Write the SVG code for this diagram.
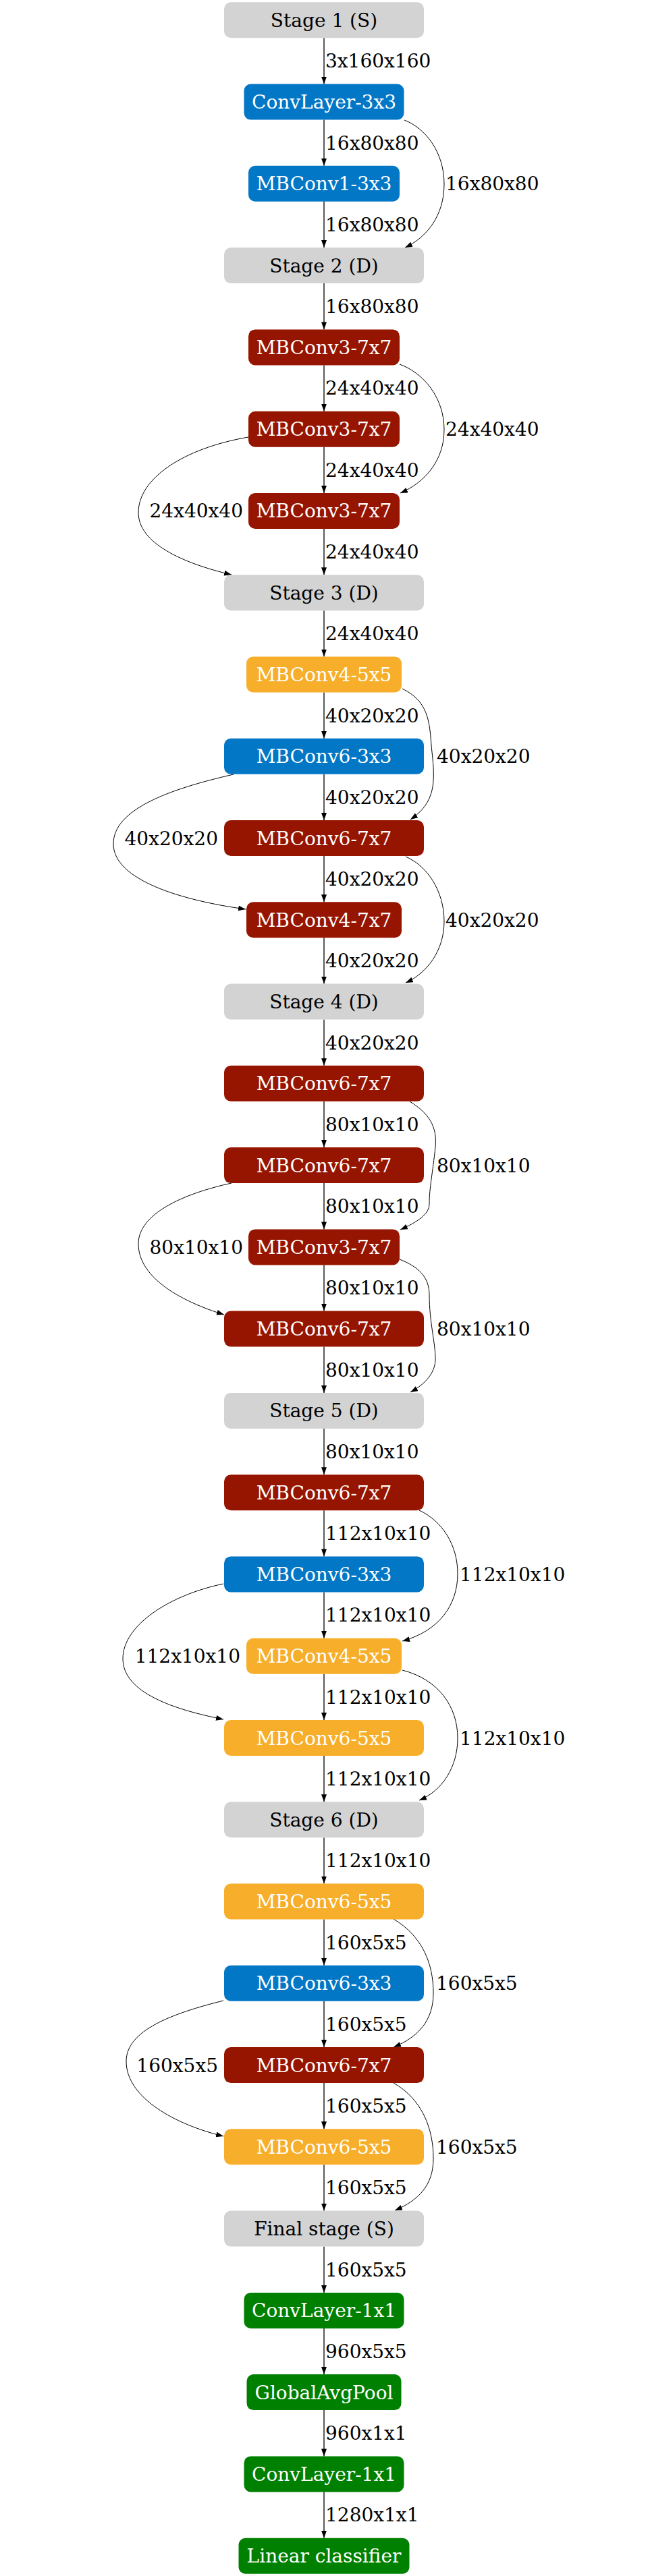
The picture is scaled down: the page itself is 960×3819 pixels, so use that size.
<svg xmlns="http://www.w3.org/2000/svg" width="960" height="3819" viewBox="0 0 960 3819">
<style>
text{font-family:"DejaVu Serif","Liberation Serif",serif;font-size:28px}
.nt{text-anchor:middle;fill:#ffffff}
.st{text-anchor:middle;fill:#000000}
.el{fill:#000000}
.er{text-anchor:end;fill:#000000}
.gray{fill:#d3d3d3}
.blue{fill:#0277c6}
.red{fill:#961500}
.orange{fill:#f7ae2a}
.green{fill:#008000}
.e{fill:none;stroke:#000;stroke-width:1.3}
.c{fill:none;stroke:#000;stroke-width:1}
</style>
<defs>
<marker id="ah" markerUnits="userSpaceOnUse" markerWidth="12" markerHeight="9" refX="11" refY="4" orient="auto">
<path d="M0,0 L11,4 L0,8 z" fill="#000"/>
</marker>
</defs>
<rect x="0" y="0" width="960" height="3819" fill="#ffffff"/>
<g id="connectors">
<path class="e" marker-end="url(#ah)" d="M480,56.3 V124.6"/>
<path class="e" marker-end="url(#ah)" d="M480,177.6 V245.8"/>
<path class="e" marker-end="url(#ah)" d="M480,298.8 V367.1"/>
<path class="e" marker-end="url(#ah)" d="M480,420.1 V488.4"/>
<path class="e" marker-end="url(#ah)" d="M480,541.4 V609.7"/>
<path class="e" marker-end="url(#ah)" d="M480,662.7 V730.9"/>
<path class="e" marker-end="url(#ah)" d="M480,783.9 V852.2"/>
<path class="e" marker-end="url(#ah)" d="M480,905.2 V973.5"/>
<path class="e" marker-end="url(#ah)" d="M480,1026.5 V1094.7"/>
<path class="e" marker-end="url(#ah)" d="M480,1147.7 V1216"/>
<path class="e" marker-end="url(#ah)" d="M480,1269 V1337.3"/>
<path class="e" marker-end="url(#ah)" d="M480,1390.3 V1458.5"/>
<path class="e" marker-end="url(#ah)" d="M480,1511.5 V1579.8"/>
<path class="e" marker-end="url(#ah)" d="M480,1632.8 V1701.1"/>
<path class="e" marker-end="url(#ah)" d="M480,1754.1 V1822.4"/>
<path class="e" marker-end="url(#ah)" d="M480,1875.4 V1943.6"/>
<path class="e" marker-end="url(#ah)" d="M480,1996.6 V2064.9"/>
<path class="e" marker-end="url(#ah)" d="M480,2117.9 V2186.2"/>
<path class="e" marker-end="url(#ah)" d="M480,2239.2 V2307.4"/>
<path class="e" marker-end="url(#ah)" d="M480,2360.4 V2428.7"/>
<path class="e" marker-end="url(#ah)" d="M480,2481.7 V2550"/>
<path class="e" marker-end="url(#ah)" d="M480,2603 V2671.2"/>
<path class="e" marker-end="url(#ah)" d="M480,2724.2 V2792.5"/>
<path class="e" marker-end="url(#ah)" d="M480,2845.5 V2913.8"/>
<path class="e" marker-end="url(#ah)" d="M480,2966.8 V3035.1"/>
<path class="e" marker-end="url(#ah)" d="M480,3088.1 V3156.3"/>
<path class="e" marker-end="url(#ah)" d="M480,3209.3 V3277.6"/>
<path class="e" marker-end="url(#ah)" d="M480,3330.6 V3398.9"/>
<path class="e" marker-end="url(#ah)" d="M480,3451.9 V3520.1"/>
<path class="e" marker-end="url(#ah)" d="M480,3573.1 V3641.4"/>
<path class="e" marker-end="url(#ah)" d="M480,3694.4 V3762.7"/>
<!-- skip connections -->
<path class="c" marker-end="url(#ah)" d="M599,178 C630,190 658,225 658,273 C658,320 632,352 600,367"/>
<path class="c" marker-end="url(#ah)" d="M592,540 C628,553 658,590 658,637 C658,684 628,716 593,731"/>
<path class="c" marker-end="url(#ah)" d="M368,648 C270,665 205,710 205,760 C205,805 270,835 343,852"/>
<path class="c" marker-end="url(#ah)" d="M596,1021 C640,1042 636,1080 640,1115 C645,1160 645,1190 608,1215"/>
<path class="c" marker-end="url(#ah)" d="M346,1148 C250,1170 168,1200 168,1251 C168,1305 270,1335 364,1348"/>
<path class="c" marker-end="url(#ah)" d="M601,1270 C632,1283 658,1320 658,1366 C658,1410 632,1443 601,1457"/>
<path class="c" marker-end="url(#ah)" d="M607,1633 C635,1650 648,1670 645,1700 C641,1740 636,1760 636,1785 C636,1800 618,1812 593,1823"/>
<path class="c" marker-end="url(#ah)" d="M343,1754 C270,1770 205,1800 205,1844 C205,1895 270,1930 332,1949"/>
<path class="c" marker-end="url(#ah)" d="M592,1867 C620,1878 636,1893 636,1920 C636,1960 645,1990 645,2015 C645,2035 630,2052 608,2064"/>
<path class="c" marker-end="url(#ah)" d="M621,2239 C655,2255 678,2290 678,2333 C678,2380 650,2418 596,2433"/>
<path class="c" marker-end="url(#ah)" d="M331,2348 C250,2365 182,2410 182,2459 C182,2510 260,2535 331,2549"/>
<path class="c" marker-end="url(#ah)" d="M596,2476 C650,2490 678,2530 678,2577 C678,2620 655,2655 621,2669"/>
<path class="c" marker-end="url(#ah)" d="M583,2845 C625,2870 642,2910 642,2955 C642,2995 620,3020 583,3035"/>
<path class="c" marker-end="url(#ah)" d="M331,2966 C255,2985 187,3010 187,3056 C187,3110 260,3150 331,3167"/>
<path class="c" marker-end="url(#ah)" d="M583,3088 C625,3112 642,3155 642,3200 C642,3240 620,3262 585,3277"/>
<!-- edge labels -->
<text class="el" x="482" y="100.3">3x160x160</text>
<text class="el" x="482" y="221.6">16x80x80</text>
<text class="el" x="482" y="342.8">16x80x80</text>
<text class="el" x="660" y="282.3">16x80x80</text>
<text class="el" x="482" y="464.1">16x80x80</text>
<text class="el" x="482" y="585.4">24x40x40</text>
<text class="el" x="482" y="706.7">24x40x40</text>
<text class="el" x="482" y="827.9">24x40x40</text>
<text class="el" x="660" y="646.2">24x40x40</text>
<text class="er" x="360" y="767.4">24x40x40</text>
<text class="el" x="482" y="949.2">24x40x40</text>
<text class="el" x="482" y="1070.5">40x20x20</text>
<text class="el" x="482" y="1191.7">40x20x20</text>
<text class="el" x="482" y="1313">40x20x20</text>
<text class="el" x="482" y="1434.3">40x20x20</text>
<text class="el" x="647" y="1131.2">40x20x20</text>
<text class="er" x="323" y="1252.5">40x20x20</text>
<text class="el" x="660" y="1373.8">40x20x20</text>
<text class="el" x="482" y="1555.5">40x20x20</text>
<text class="el" x="482" y="1676.8">80x10x10</text>
<text class="el" x="482" y="1798.1">80x10x10</text>
<text class="el" x="482" y="1919.4">80x10x10</text>
<text class="el" x="482" y="2040.6">80x10x10</text>
<text class="el" x="647" y="1737.6">80x10x10</text>
<text class="er" x="360" y="1858.9">80x10x10</text>
<text class="el" x="647" y="1980.1">80x10x10</text>
<text class="el" x="482" y="2161.9">80x10x10</text>
<text class="el" x="482" y="2283.2">112x10x10</text>
<text class="el" x="482" y="2404.4">112x10x10</text>
<text class="el" x="482" y="2525.7">112x10x10</text>
<text class="el" x="482" y="2647">112x10x10</text>
<text class="el" x="681" y="2343.9">112x10x10</text>
<text class="er" x="356" y="2465.2">112x10x10</text>
<text class="el" x="681" y="2586.5">112x10x10</text>
<text class="el" x="482" y="2768.2">112x10x10</text>
<text class="el" x="482" y="2889.5">160x5x5</text>
<text class="el" x="482" y="3010.8">160x5x5</text>
<text class="el" x="482" y="3132.1">160x5x5</text>
<text class="el" x="482" y="3253.3">160x5x5</text>
<text class="el" x="646" y="2950.3">160x5x5</text>
<text class="er" x="323" y="3071.6">160x5x5</text>
<text class="el" x="646" y="3192.8">160x5x5</text>
<text class="el" x="482" y="3374.6">160x5x5</text>
<text class="el" x="482" y="3495.9">960x5x5</text>
<text class="el" x="482" y="3617.1">960x1x1</text>
<text class="el" x="482" y="3738.4">1280x1x1</text>
</g>
<g id="n0"><rect class="gray" x="332" y="3.3" width="296" height="53" rx="10"/><text class="st" x="480" y="39.8">Stage 1 (S)</text></g>
<g id="n1"><rect class="blue" x="361.5" y="124.6" width="237" height="53" rx="10"/><text class="nt" x="480" y="161.1">ConvLayer-3x3</text></g>
<g id="n2"><rect class="blue" x="368" y="245.8" width="224" height="53" rx="10"/><text class="nt" x="480" y="282.3">MBConv1-3x3</text></g>
<g id="n3"><rect class="gray" x="332" y="367.1" width="296" height="53" rx="10"/><text class="st" x="480" y="403.6">Stage 2 (D)</text></g>
<g id="n4"><rect class="red" x="368" y="488.4" width="224" height="53" rx="10"/><text class="nt" x="480" y="524.9">MBConv3-7x7</text></g>
<g id="n5"><rect class="red" x="368" y="609.7" width="224" height="53" rx="10"/><text class="nt" x="480" y="646.2">MBConv3-7x7</text></g>
<g id="n6"><rect class="red" x="368" y="730.9" width="224" height="53" rx="10"/><text class="nt" x="480" y="767.4">MBConv3-7x7</text></g>
<g id="n7"><rect class="gray" x="332" y="852.2" width="296" height="53" rx="10"/><text class="st" x="480" y="888.7">Stage 3 (D)</text></g>
<g id="n8"><rect class="orange" x="365" y="973.5" width="230" height="53" rx="10"/><text class="nt" x="480" y="1010">MBConv4-5x5</text></g>
<g id="n9"><rect class="blue" x="332" y="1094.7" width="296" height="53" rx="10"/><text class="nt" x="480" y="1131.2">MBConv6-3x3</text></g>
<g id="n10"><rect class="red" x="332" y="1216" width="296" height="53" rx="10"/><text class="nt" x="480" y="1252.5">MBConv6-7x7</text></g>
<g id="n11"><rect class="red" x="365" y="1337.3" width="230" height="53" rx="10"/><text class="nt" x="480" y="1373.8">MBConv4-7x7</text></g>
<g id="n12"><rect class="gray" x="332" y="1458.5" width="296" height="53" rx="10"/><text class="st" x="480" y="1495">Stage 4 (D)</text></g>
<g id="n13"><rect class="red" x="332" y="1579.8" width="296" height="53" rx="10"/><text class="nt" x="480" y="1616.3">MBConv6-7x7</text></g>
<g id="n14"><rect class="red" x="332" y="1701.1" width="296" height="53" rx="10"/><text class="nt" x="480" y="1737.6">MBConv6-7x7</text></g>
<g id="n15"><rect class="red" x="368" y="1822.4" width="224" height="53" rx="10"/><text class="nt" x="480" y="1858.9">MBConv3-7x7</text></g>
<g id="n16"><rect class="red" x="332" y="1943.6" width="296" height="53" rx="10"/><text class="nt" x="480" y="1980.1">MBConv6-7x7</text></g>
<g id="n17"><rect class="gray" x="332" y="2064.9" width="296" height="53" rx="10"/><text class="st" x="480" y="2101.4">Stage 5 (D)</text></g>
<g id="n18"><rect class="red" x="332" y="2186.2" width="296" height="53" rx="10"/><text class="nt" x="480" y="2222.7">MBConv6-7x7</text></g>
<g id="n19"><rect class="blue" x="332" y="2307.4" width="296" height="53" rx="10"/><text class="nt" x="480" y="2343.9">MBConv6-3x3</text></g>
<g id="n20"><rect class="orange" x="365" y="2428.7" width="230" height="53" rx="10"/><text class="nt" x="480" y="2465.2">MBConv4-5x5</text></g>
<g id="n21"><rect class="orange" x="332" y="2550" width="296" height="53" rx="10"/><text class="nt" x="480" y="2586.5">MBConv6-5x5</text></g>
<g id="n22"><rect class="gray" x="332" y="2671.2" width="296" height="53" rx="10"/><text class="st" x="480" y="2707.7">Stage 6 (D)</text></g>
<g id="n23"><rect class="orange" x="332" y="2792.5" width="296" height="53" rx="10"/><text class="nt" x="480" y="2829">MBConv6-5x5</text></g>
<g id="n24"><rect class="blue" x="332" y="2913.8" width="296" height="53" rx="10"/><text class="nt" x="480" y="2950.3">MBConv6-3x3</text></g>
<g id="n25"><rect class="red" x="332" y="3035.1" width="296" height="53" rx="10"/><text class="nt" x="480" y="3071.6">MBConv6-7x7</text></g>
<g id="n26"><rect class="orange" x="332" y="3156.3" width="296" height="53" rx="10"/><text class="nt" x="480" y="3192.8">MBConv6-5x5</text></g>
<g id="n27"><rect class="gray" x="332" y="3277.6" width="296" height="53" rx="10"/><text class="st" x="480" y="3314.1">Final stage (S)</text></g>
<g id="n28"><rect class="green" x="361.5" y="3398.9" width="237" height="53" rx="10"/><text class="nt" x="480" y="3435.4">ConvLayer-1x1</text></g>
<g id="n29"><rect class="green" x="365.5" y="3520.1" width="229" height="53" rx="10"/><text class="nt" x="480" y="3556.6">GlobalAvgPool</text></g>
<g id="n30"><rect class="green" x="361.5" y="3641.4" width="237" height="53" rx="10"/><text class="nt" x="480" y="3677.9">ConvLayer-1x1</text></g>
<g id="n31"><rect class="green" x="353.5" y="3762.7" width="253" height="53" rx="10"/><text class="nt" x="480" y="3799.2">Linear classifier</text></g>
</svg>
